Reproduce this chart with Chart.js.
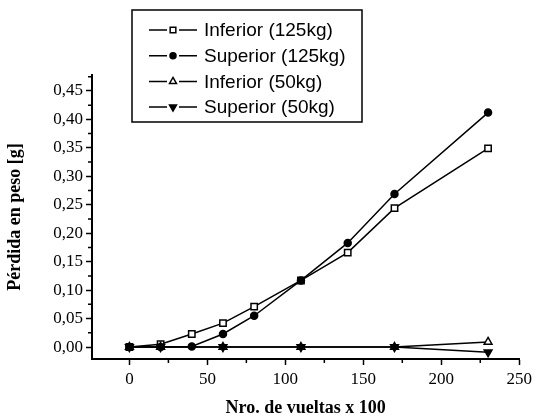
<!DOCTYPE html>
<html>
<head>
<meta charset="utf-8">
<script src="https://cdn.jsdelivr.net/npm/chart.js@4"></script>
<style>
  html, body { margin: 0; padding: 0; background: #fff; }
  #wrap { width: 536px; height: 417px; }
</style>
</head>
<body>
<div id="wrap"><canvas id="myChart"></canvas></div>
<script>
// datos
const x125 = [0, 20, 40, 60, 80, 110, 140, 170, 230];
const inf125 = [0, 0.005, 0.023, 0.042, 0.071, 0.117, 0.166, 0.244, 0.349];
const sup125 = [0, 0, 0.001, 0.023, 0.055, 0.117, 0.183, 0.269, 0.412];
const x50 = [0, 20, 60, 110, 170, 230];
const inf50 = [0, 0, 0, 0, 0, 0.009];
const sup50 = [0, 0, 0, 0, 0, -0.009];

const seriesNames = ["Inferior (125kg)", "Superior (125kg)", "Inferior (50kg)", "Superior (50kg)"];
const xTicks = [0, 50, 100, 150, 200, 250];
const xMinor = [25, 75, 125, 175, 225];
const yTicks = [0, 0.05, 0.1, 0.15, 0.2, 0.25, 0.3, 0.35, 0.4, 0.45];
const yMinor = [0.025, 0.075, 0.125, 0.175, 0.225, 0.275, 0.325, 0.375, 0.425, 0.475];

const pts = (xs, ys) => xs.map((x, i) => ({ x: x, y: ys[i] }));

const serif = "'Liberation Serif', 'Times New Roman', serif";
const sans = "'Liberation Sans', Arial, sans-serif";

// ticks menores (sin etiqueta)
const minorTicks = {
  id: "minorTicks",
  afterDraw(chart) {
    const c = chart.ctx;
    const xs = chart.scales.x, ys = chart.scales.y;
    const a = chart.chartArea;
    c.save();
    c.strokeStyle = "#000";
    c.lineWidth = 1.5;
    c.beginPath();
    yMinor.forEach((v) => {
      const p = ys.getPixelForValue(v);
      if (p < a.top || p > a.bottom) return;
      c.moveTo(a.left - 4, p);
      c.lineTo(a.left, p);
    });
    xMinor.forEach((v) => {
      const p = xs.getPixelForValue(v);
      c.moveTo(p, a.bottom);
      c.lineTo(p, a.bottom + 4);
    });
    c.stroke();
    c.restore();
  },
};

// leyenda con recuadro dentro del grafico
const legendBox = {
  id: "legendBox",
  afterDraw(chart) {
    const c = chart.ctx;
    c.save();
    c.fillStyle = "#fff";
    c.fillRect(132, 10, 230, 112);
    c.strokeStyle = "#000";
    c.lineWidth = 1.5;
    c.strokeRect(132, 10, 230, 112);
    c.font = "19px " + sans;
    c.textBaseline = "middle";
    chart.data.datasets.forEach((ds, i) => {
      const y = 30 + i * 25.7;
      c.strokeStyle = "#000";
      c.lineWidth = 1.5;
      c.beginPath();
      c.moveTo(149, y);
      c.lineTo(167, y);
      c.moveTo(179, y);
      c.lineTo(197, y);
      c.stroke();
      c.fillStyle = ds.pointBackgroundColor;
      c.strokeStyle = "#000";
      c.lineWidth = 1.5;
      Chart.helpers.drawPoint(c, {
        pointStyle: ds.pointStyle,
        radius: ds.pointRadius - 0.5,
        rotation: ds.pointRotation || 0,
        borderWidth: 1.5,
      }, 173, y);
      c.fillStyle = "#000";
      c.fillText(ds.label, 204, y + 1);
    });
    c.restore();
  },
};

const base = {
  showLine: true,
  borderColor: "#000",
  borderWidth: 1.5,
  pointBorderColor: "#000",
  pointBorderWidth: 1.5,
};

new Chart(document.getElementById("myChart"), {
  type: "scatter",
  data: {
    datasets: [
      { ...base, label: seriesNames[0], order: 4, data: pts(x125, inf125), pointStyle: "rect", pointRadius: 4.5, pointBackgroundColor: "#fff" },
      { ...base, label: seriesNames[1], order: 3, data: pts(x125, sup125), pointStyle: "circle", pointRadius: 3.5, pointBackgroundColor: "#000" },
      { ...base, label: seriesNames[2], order: 2, data: pts(x50, inf50), pointStyle: "triangle", pointRadius: 4.5, pointBackgroundColor: "#fff" },
      { ...base, label: seriesNames[3], order: 1, data: pts(x50, sup50), pointStyle: "triangle", pointRotation: 180, pointRadius: 4.5, pointBackgroundColor: "#000" },
    ],
  },
  options: {
    responsive: true,
    maintainAspectRatio: false,
    animation: false,
    layout: { padding: { left: 0, top: 75, right: 13, bottom: 0 } },
    plugins: { legend: { display: false }, tooltip: { enabled: false } },
    scales: {
      x: {
        type: "linear",
        min: -24,
        max: 250,
        afterFit: (s) => { s.height = 58; },
        afterBuildTicks: (s) => { s.ticks = xTicks.map((v) => ({ value: v })); },
        border: { color: "#000", width: 2 },
        grid: { drawOnChartArea: false, drawTicks: true, tickLength: 6, tickWidth: 1.5, tickColor: "#000" },
        ticks: { color: "#000", font: { family: serif, size: 17 }, padding: 4, maxRotation: 0 },
        title: { display: true, text: "Nro. de vueltas x 100", color: "#000", font: { family: serif, size: 18, weight: "bold" }, padding: { top: 0, bottom: -2 } },
      },
      y: {
        min: -0.021,
        max: 0.478,
        afterFit: (s) => { s.width = 92; },
        afterBuildTicks: (s) => { s.ticks = yTicks.map((v) => ({ value: v })); },
        border: { color: "#000", width: 2 },
        grid: { drawOnChartArea: false, drawTicks: true, tickLength: 6, tickWidth: 1.5, tickColor: "#000" },
        ticks: { color: "#000", font: { family: serif, size: 17 }, padding: 3, callback: (v) => v.toFixed(2).replace(".", ",") },
        title: { display: true, text: "Pérdida en peso [g]", color: "#000", font: { family: serif, size: 18, weight: "bold" }, padding: { top: 5, bottom: 0 } },
      },
    },
  },
  plugins: [minorTicks, legendBox],
});
</script>
</body>
</html>
